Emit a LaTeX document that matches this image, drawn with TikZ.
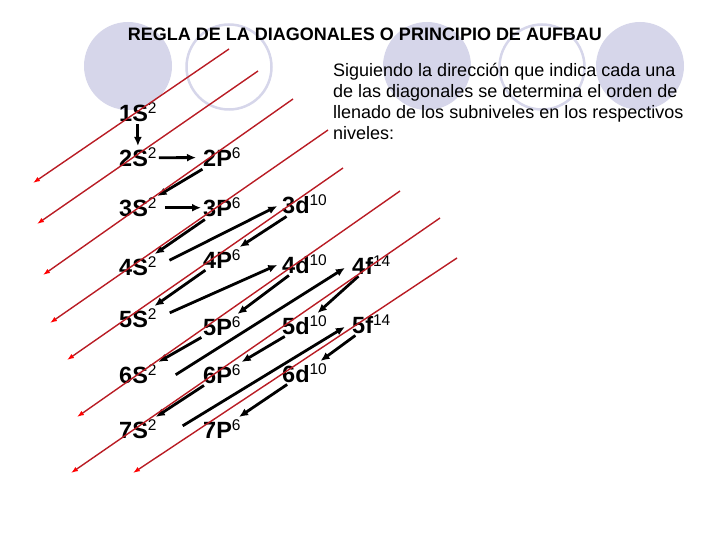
\documentclass[tikz,border=0pt]{standalone}
\usepackage{fontspec}
\setmainfont{Liberation Sans}
\usetikzlibrary{arrows.meta}
\definecolor{lavanda}{RGB}{214,214,234}
\definecolor{rojo}{RGB}{185,28,36}
\newcommand{\expo}[1]{\raisebox{8pt}{\normalfont\fontsize{15.5}{15.5}\selectfont #1}}

\begin{document}
\begin{tikzpicture}[x=1pt,y=-1pt,>={Latex[length=9pt,width=8pt]},
    lbl/.style={anchor=base west,inner sep=2pt,font=\bfseries\fontsize{23.5}{24}\selectfont},
    flecha/.style={->,line width=2.8pt},
    diag/.style={-{Latex[length=7pt,width=5pt,color=red]},rojo,line width=1.4pt}]
\useasboundingbox (0,0) rectangle (720,540);
% circulos del fondo
\fill[lavanda] (128,66) circle (44pt);
\draw[lavanda,line width=2.5pt] (229,67) circle (42.5pt);
\fill[lavanda] (427,66) circle (44pt);
\draw[lavanda,line width=2.5pt] (542,67) circle (42.5pt);
\fill[lavanda] (640,66) circle (44pt);
\node[anchor=base,inner sep=0pt,font=\bfseries\fontsize{18}{18}\selectfont] (titulo) at (365,41)
  {REGLA DE LA DIAGONALES O PRINCIPIO DE AUFBAU};
\node[anchor=north west,inner sep=0pt,align=left,font=\fontsize{18}{21}\selectfont] (texto) at (333,63)
  {Siguiendo la dirección que indica cada una\\de las diagonales se determina el orden de\\llenado de los subniveles en los respectivos\\niveles:};
% subniveles
\node[lbl] (s1) at (117,122) {1S\expo{2}};
\node[lbl] (s2) at (117,167) {2S\expo{2}};
\node[lbl] (s3) at (117,217) {3S\expo{2}};
\node[lbl] (s4) at (117,275) {4S\expo{2}};
\node[lbl] (s5) at (117,327) {5S\expo{2}};
\node[lbl] (s6) at (117,383) {6S\expo{2}};
\node[lbl] (s7) at (117,438) {7S\expo{2}};
\node[lbl] (p2) at (201,167) {2P\expo{6}};
\node[lbl] (p3) at (201,217) {3P\expo{6}};
\node[lbl] (p4) at (201,268) {4P\expo{6}};
\node[lbl] (p5) at (201,335) {5P\expo{6}};
\node[lbl] (p6) at (201,383) {6P\expo{6}};
\node[lbl] (p7) at (201,438) {7P\expo{6}};
\node[lbl] (d3) at (280,214) {3d\expo{10}};
\node[lbl] (d4) at (280,273) {4d\expo{10}};
\node[lbl] (d5) at (280,334) {5d\expo{10}};
\node[lbl] (d6) at (280,382) {6d\expo{10}};
\node[lbl] (f4) at (350,274) {4f\expo{14}};
\node[lbl] (f5) at (350,333) {5f\expo{14}};
% orden de llenado
\draw[flecha] (s1) -- (s2);
\draw[flecha,shorten >=5pt] (s2) -- (p2);
\draw[flecha] (p2) -- (s3);
\draw[flecha,shorten <=6pt] (s3) -- (p3);
\draw[flecha] (p3) -- (s4);
\draw[flecha,shorten <=12pt,shorten >=3pt] (s4.east) -- (d3.west);
\draw[flecha] (d3) -- (p4);
\draw[flecha] (p4) -- (s5);
\draw[flecha,shorten <=12pt,shorten >=3pt] (s5.east) -- (d4.west);
\draw[flecha] (d4) -- (p5);
\draw[flecha] (p5) -- (s6);
\draw[flecha,shorten <=20pt,shorten >=6pt] (s6.south east) -- (f4.west);
\draw[flecha] (f4) -- (d5);
\draw[flecha] (d5) -- (p6);
\draw[flecha] (p6) -- (s7);
\draw[flecha,shorten <=28pt,shorten >=6pt] (s7.south east) -- (f5.west);
\draw[flecha] (f5) -- (d6);
\draw[flecha] (d6) -- (p7);
% diagonales
\foreach \n/\xa/\ya/\xb/\yb in {1/229/49/33/183,2/258/71/37/224,3/293/99/43/275,
    4/328/130/50/323,5/343/168/67/360,6/400/191/77/417,7/440/218/71/473,8/457/258/133/473}
{
  \coordinate (r\n a) at (\xa,\ya);
  \coordinate (r\n b) at (\xb,\yb);
  \draw[diag] (r\n a) -- (r\n b);
}
\end{tikzpicture}
\end{document}
